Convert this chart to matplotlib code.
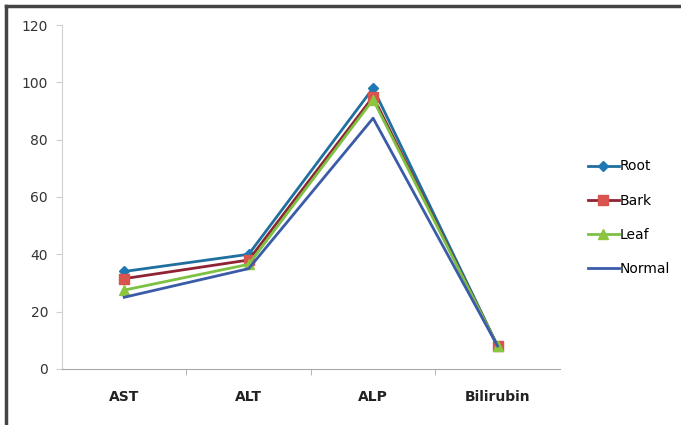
import matplotlib.pyplot as plt
from matplotlib.lines import Line2D

categories = ["AST", "ALT", "ALP", "Bilirubin"]
root = [34, 40, 98, 8]
bark = [31.5, 38, 95, 8]
leaf = [27.5, 36.5, 94, 8]
normal = [25, 35, 87.5, 8]

series = [
    ("Root", root, "#1f6f9f", "#1f78b4", "D", 5.5),
    ("Bark", bark, "#8e2433", "#d9534f", "s", 6.5),
    ("Leaf", leaf, "#7cc142", "#8cc63f", "^", 6.5),
    ("Normal", normal, "#3a5ca8", "#3a5ca8", "", 0),
]

fig = plt.figure(figsize=(6.81, 4.25), dpi=100)
ax = fig.add_axes([0.091, 0.132, 0.731, 0.809])

x = range(len(categories))
for name, vals, lc, mc, mk, ms in series:
    ax.plot(x, vals, color=lc, linewidth=2.0, marker=mk if mk else None,
            markersize=ms, markerfacecolor=mc, markeredgecolor=mc, label=name)

ax.set_xlim(-0.5, len(categories) - 0.5)
ax.set_ylim(0, 120)
ax.set_yticks(range(0, 121, 20))
ax.set_xticks(list(x))
ax.set_xticklabels(categories)
ax.set_xticks([i + 0.5 for i in range(len(categories) - 1)], minor=True)

for side in ["top", "right"]:
    ax.spines[side].set_visible(False)
ax.spines["left"].set_color("#d0d0d0")
ax.spines["bottom"].set_color("#a8a8a8")
ax.tick_params(axis="y", length=4, color="#d0d0d0", labelsize=10, labelcolor="#333333", pad=6)
ax.tick_params(axis="x", which="major", length=0, labelsize=10, labelcolor="#222222", pad=15)
ax.tick_params(axis="x", which="minor", length=4, color="#a8a8a8")
for lbl in ax.get_xticklabels():
    lbl.set_fontweight("bold")

handles = []
for name, vals, lc, mc, mk, ms in series:
    handles.append(Line2D([], [], color=lc, linewidth=2.0, marker=mk if mk else None,
                          markersize=ms, markerfacecolor=mc, markeredgecolor=mc))
fig.legend(handles, [s[0] for s in series], loc="center left",
           bbox_to_anchor=(0.845, 0.488), frameon=False, fontsize=10,
           handlelength=2.2, handletextpad=0.1, labelspacing=1.45)

# frame lines along the top and left edges of the figure
fig.add_artist(Line2D([0.009, 0.009], [0.0, 0.986], transform=fig.transFigure,
                      color="#444444", linewidth=2.5))
fig.add_artist(Line2D([0.009, 1.0], [0.986, 0.986], transform=fig.transFigure,
                      color="#444444", linewidth=2.5))

fig.savefig("out.png", dpi=100)
